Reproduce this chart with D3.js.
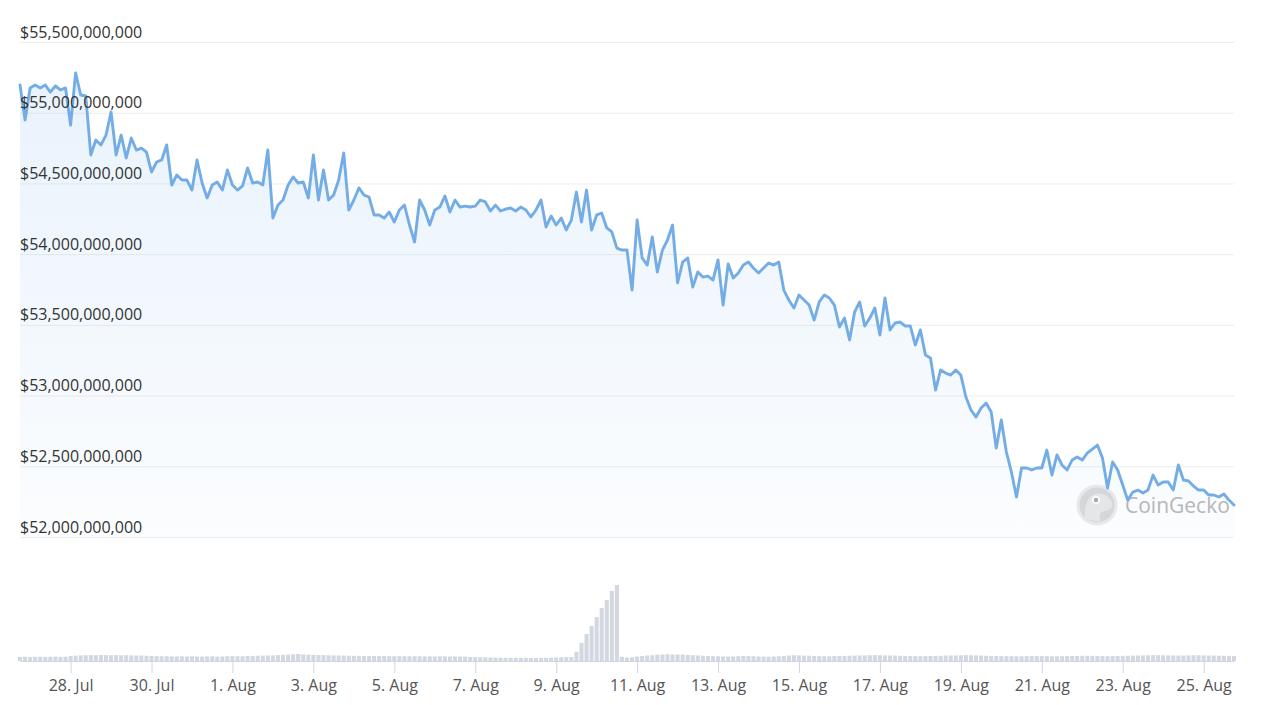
<!DOCTYPE html>
<html>
<head>
<meta charset="utf-8">
<script src="https://cdn.jsdelivr.net/npm/d3@7"></script>
<style>
  html, body { margin: 0; padding: 0; background: #ffffff; }
  svg { display: block; }
</style>
</head>
<body>
<script>
// ---------------- DATA ----------------
// Market cap (billions USD), one value every 3 hours starting 26 Jul 18:00 UTC
const startTime = "2024-07-26T18:00:00Z";
const stepHours = 3;
const priceB = [
  55.196,54.948,55.175,55.196,55.175,55.196,55.146,55.189,55.161,55.175,
  54.913,55.281,55.125,55.118,54.701,54.807,54.772,54.842,55.005,54.701,
  54.842,54.680,54.821,54.736,54.750,54.722,54.581,54.651,54.666,54.772,
  54.489,54.560,54.524,54.524,54.453,54.666,54.503,54.397,54.489,54.510,
  54.453,54.595,54.489,54.453,54.482,54.609,54.503,54.510,54.489,54.736,
  54.255,54.347,54.383,54.489,54.545,54.503,54.510,54.397,54.701,54.383,
  54.595,54.383,54.418,54.524,54.715,54.312,54.383,54.468,54.418,54.404,
  54.277,54.277,54.255,54.298,54.227,54.312,54.347,54.206,54.086,54.383,
  54.312,54.206,54.312,54.333,54.411,54.298,54.383,54.333,54.340,54.333,
  54.340,54.383,54.369,54.305,54.347,54.305,54.319,54.326,54.305,54.333,
  54.312,54.263,54.312,54.383,54.192,54.270,54.206,54.255,54.171,54.241,
  54.439,54.227,54.453,54.171,54.277,54.291,54.185,54.157,54.043,54.029,
  54.029,53.746,54.241,53.973,53.923,54.121,53.874,54.029,54.100,54.206,
  53.796,53.944,53.973,53.768,53.874,53.838,53.845,53.817,53.959,53.640,
  53.930,53.831,53.867,53.923,53.944,53.902,53.867,53.902,53.937,53.923,
  53.944,53.746,53.676,53.619,53.711,53.676,53.640,53.534,53.662,53.711,
  53.690,53.640,53.485,53.548,53.393,53.591,53.662,53.492,53.548,53.619,
  53.428,53.690,53.464,53.513,53.520,53.492,53.492,53.357,53.464,53.287,
  53.266,53.039,53.181,53.159,53.145,53.181,53.145,52.990,52.898,52.848,
  52.912,52.947,52.884,52.629,52.827,52.601,52.459,52.283,52.488,52.488,
  52.474,52.488,52.488,52.615,52.438,52.580,52.509,52.474,52.544,52.566,
  52.544,52.594,52.622,52.650,52.558,52.346,52.530,52.474,52.368,52.261,
  52.318,52.332,52.311,52.332,52.438,52.368,52.389,52.389,52.332,52.509,
  52.403,52.396,52.360,52.332,52.332,52.297,52.297,52.283,52.304,52.261,
  52.226
];
// Volume (millions USD), same timestamps
const volumeM = [
  82,85,80,84,86,83,85,88,84,86,
  100,108,112,115,118,116,120,118,115,117,113,116,112,110,108,105,
  100,98,95,96,92,90,94,92,95,90,88,92,94,90,92,95,98,96,94,100,102,105,108,110,112,
  118,122,128,135,140,132,128,125,120,118,115,112,110,108,
  105,104,102,100,102,100,98,100,97,96,98,95,94,96,95,93,94,92,95,93,90,92,90,88,
  80,78,75,72,70,68,66,65,64,62,64,63,62,60,62,64,66,70,72,76,80,
  185,360,540,700,880,1060,1220,1400,1520,
  85,70,75,90,100,110,115,
  125,130,135,132,130,128,120,115,110,105,
  100,98,95,92,90,92,95,100,98,95,90,88,86,90,95,100,110,115,112,108,105,100,98,96,95,
  98,100,102,105,108,110,112,115,118,115,112,110,108,105,102,100,98,96,98,100,
  102,105,108,110,112,115,118,115,112,108,105,102,100,98,96,95,94,96,98,100,
  100,98,96,95,94,96,98,100,102,104,105,102,100,98,96,98,100,102,105,108,
  110,112,115,118,116,114,112,110,108,110,112,114,115,112,110,108,106,104,102,100
];
const xTickDates = ["2024-07-28","2024-07-30","2024-08-01","2024-08-03","2024-08-05",
  "2024-08-07","2024-08-09","2024-08-11","2024-08-13","2024-08-15","2024-08-17",
  "2024-08-19","2024-08-21","2024-08-23","2024-08-25"];
const yTicksB = [52, 52.5, 53, 53.5, 54, 54.5, 55, 55.5];

// ---------------- CHART ----------------
const W = 1263, H = 705;
const L = 20, R = 1234;
const priceTop = 42, priceBottom = 537;
const volBottom = 661, volTop = 581;

const t0 = new Date(startTime).getTime();
const data = priceB.map((v, i) => ({
  t: new Date(t0 + i * stepHours * 3600e3),
  v: v,
  vol: volumeM[i] || 0
}));

const x = d3.scaleUtc().domain([data[0].t, data[data.length - 1].t]).range([L, R]);
const y = d3.scaleLinear().domain([52, 55.5]).range([priceBottom, priceTop]);
const yv = d3.scaleLinear().domain([0, 1600]).range([volBottom, volTop]);

const svg = d3.select("body").append("svg").attr("width", W).attr("height", H);
const FONT = "'Open Sans', 'Noto Sans', sans-serif";

const defs = svg.append("defs");
const grad = defs.append("linearGradient").attr("id", "areaGrad")
  .attr("x1", 0).attr("y1", 0).attr("x2", 0).attr("y2", 1);
grad.append("stop").attr("offset", "0%").attr("stop-color", "#7cb5ec").attr("stop-opacity", 0.17);
grad.append("stop").attr("offset", "100%").attr("stop-color", "#7cb5ec").attr("stop-opacity", 0.03);

// gridlines
const gridG = svg.append("g").attr("transform", `translate(${L},0)`)
  .call(d3.axisRight(y).tickValues(yTicksB).tickSize(R - L).tickFormat(""));
gridG.select(".domain").remove();
gridG.selectAll("line").attr("stroke", "#ededed").attr("stroke-width", 1);

// watermark
const wm = svg.append("g").attr("opacity", 0.85);
wm.append("circle").attr("cx", 1097).attr("cy", 505).attr("r", 19)
  .attr("fill", "#d2d2d2").attr("stroke", "#e8e8e8").attr("stroke-width", 3);
wm.append("path")
  .attr("d", "M1085,519 C1084,506 1087,497 1095,494 C1103,492 1110,497 1112,503 C1113,508 1109,511 1104,511 C1100,512 1099,516 1100,522 Z")
  .attr("fill", "#e4e4e4");
wm.append("circle").attr("cx", 1096).attr("cy", 500).attr("r", 4).attr("fill", "#ffffff");
wm.append("circle").attr("cx", 1096).attr("cy", 500).attr("r", 2.2).attr("fill", "#9a9a9a");
wm.append("text").attr("x", 1125).attr("y", 513).text("CoinGecko")
  .attr("font-family", FONT).attr("font-size", 21).attr("fill", "#ababab");

// area + line
const area = d3.area().x(d => x(d.t)).y0(priceBottom).y1(d => y(d.v));
svg.append("path").datum(data).attr("d", area).attr("fill", "url(#areaGrad)");
const line = d3.line().x(d => x(d.t)).y(d => y(d.v));
svg.append("path").datum(data).attr("d", line)
  .attr("fill", "none").attr("stroke", "#74ade6").attr("stroke-width", 2.9)
  .attr("stroke-linejoin", "round").attr("stroke-linecap", "round");

// volume bars
const step = x(data[1].t) - x(data[0].t);
svg.append("g").selectAll("rect").data(data).join("rect")
  .attr("x", d => x(d.t) - step / 2 + 0.5)
  .attr("width", Math.max(1, step - 1))
  .attr("y", d => yv(d.vol))
  .attr("height", d => volBottom - yv(d.vol))
  .attr("fill", "#d3d7df");

// y labels on top
const fmt = d3.format("$,.0f");
const labG = svg.append("g").attr("transform", `translate(${L},0)`)
  .call(d3.axisRight(y).tickValues(yTicksB).tickSize(0).tickPadding(0).tickFormat(d => fmt(d * 1e9)));
labG.select(".domain").remove();
labG.selectAll("line").remove();
labG.attr("font-family", FONT).attr("font-size", 16);
labG.selectAll("text").attr("x", 0).attr("dy", -5).attr("fill", "#333333");

// x axis
const xAxis = d3.axisBottom(x)
  .tickValues(xTickDates.map(s => new Date(s + "T00:00:00Z")))
  .tickFormat(d3.utcFormat("%-d. %b"))
  .tickSizeInner(12).tickSizeOuter(0);
const xg = svg.append("g").attr("transform", `translate(0,${volBottom})`).call(xAxis);
xg.attr("font-family", FONT).attr("font-size", 16);
xg.select(".domain").attr("stroke", "#ccd6eb");
xg.selectAll(".tick line").attr("stroke", "#ccd6eb");
xg.selectAll("text").attr("y", 30).attr("dy", 0).attr("fill", "#555555");
</script>
</body>
</html>
